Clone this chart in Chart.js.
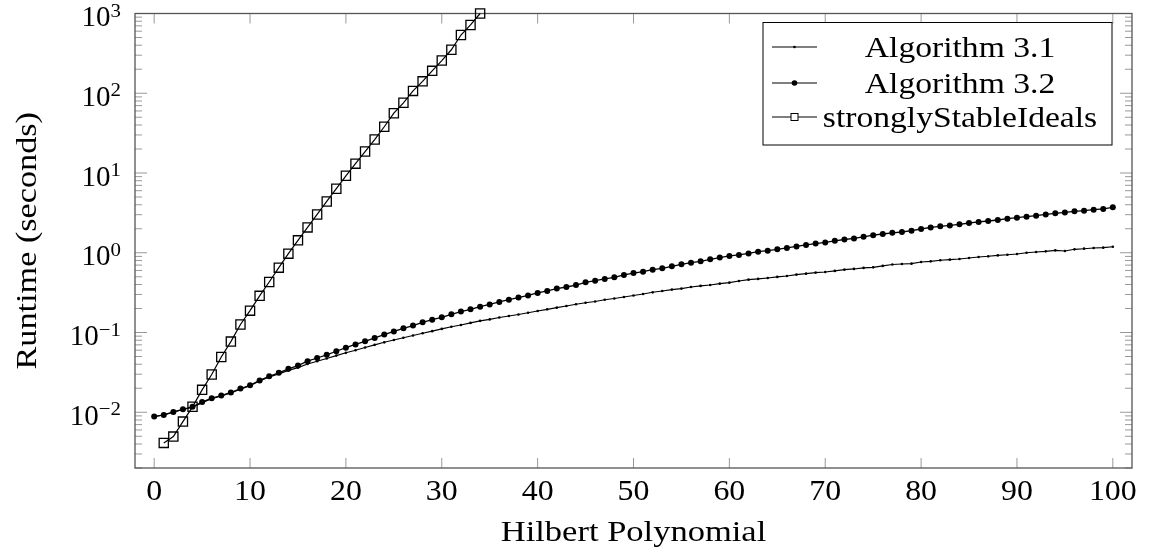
<!DOCTYPE html>
<html>
<head>
<meta charset="utf-8">
<script src="https://cdn.jsdelivr.net/npm/chart.js@4.4.1/dist/chart.umd.min.js"></script>
<style>
  html, body { margin: 0; padding: 0; background: #fff; }
  #wrap { width: 1151px; height: 554px; }
</style>
</head>
<body>
<div id="wrap"><canvas id="runtimeChart" width="1151" height="554"></canvas></div>
<script>
// Hilbert polynomial (x) for the two algorithms
const hilbert = [0,1,2,3,4,5,6,7,8,9,10,11,12,13,14,15,16,17,18,19,20,21,22,23,24,25,26,27,28,29,30,
  31,32,33,34,35,36,37,38,39,40,41,42,43,44,45,46,47,48,49,50,51,52,53,54,55,56,57,58,59,60,
  61,62,63,64,65,66,67,68,69,70,71,72,73,74,75,76,77,78,79,80,81,82,83,84,85,86,87,88,89,90,
  91,92,93,94,95,96,97,98,99,100];

// runtime in seconds
const alg31 = [0.00883,0.00923,0.0100,0.0108,0.0116,0.0132,0.0148,0.0160,0.0174,0.0195,0.0215,
  0.0247,0.0277,0.0303,0.0335,0.0363,0.0403,0.0437,0.0473,0.0513,0.0556,
  0.0600,0.0649,0.0700,0.0753,0.0804,0.0859,0.0916,0.0977,0.104,0.111,
  0.118,0.124,0.132,0.140,0.146,0.154,0.161,0.168,0.177,0.186,
  0.195,0.205,0.215,0.226,0.236,0.245,0.257,0.267,0.279,0.291,
  0.304,0.319,0.332,0.345,0.355,0.372,0.384,0.394,0.410,0.422,
  0.443,0.460,0.470,0.483,0.498,0.512,0.532,0.547,0.564,0.574,
  0.592,0.614,0.627,0.646,0.656,0.684,0.711,0.724,0.730,0.767,
  0.780,0.804,0.820,0.836,0.861,0.885,0.902,0.927,0.946,0.966,
  1.002,1.023,1.042,1.072,1.054,1.104,1.125,1.148,1.159,1.191];

const alg32 = [0.00883,0.00927,0.0101,0.0109,0.0117,0.0134,0.0150,0.0162,0.0177,0.0198,0.0218,
  0.0251,0.0282,0.0312,0.0350,0.0385,0.0437,0.0479,0.0525,0.0582,0.0646,
  0.0708,0.0776,0.0855,0.0942,0.103,0.113,0.122,0.134,0.145,0.155,
  0.169,0.183,0.195,0.211,0.225,0.242,0.258,0.274,0.292,0.313,
  0.332,0.355,0.372,0.394,0.426,0.447,0.470,0.492,0.527,0.556,
  0.579,0.614,0.638,0.676,0.716,0.752,0.780,0.826,0.869,0.912,
  0.938,0.982,1.033,1.062,1.104,1.148,1.202,1.253,1.303,1.349,
  1.413,1.466,1.514,1.585,1.660,1.718,1.778,1.820,1.892,1.986,
  2.080,2.148,2.203,2.270,2.360,2.432,2.500,2.576,2.673,2.754,
  2.831,2.917,3.027,3.119,3.206,3.304,3.365,3.467,3.540,3.707];

const ssHilbert = [1,2,3,4,5,6,7,8,9,10,11,12,13,14,15,16,17,18,19,20,21,22,23,24,25,26,27,28,29,30,31,32,33,34];
const ssIdeals = [0.00413,0.00495,0.00764,0.0117,0.0191,0.0297,0.0494,0.0769,0.126,0.188,
  0.288,0.430,0.650,0.975,1.43,2.08,3.02,4.40,6.35,9.23,
  13.1,18.6,26.3,38.0,56.2,75.9,107,141,191,257,
  351,537,718,1000];

const xTicks = [0,10,20,30,40,50,60,70,80,90,100];
const yTicks = [0.01,0.1,1,10,100,1000];
const yTickExp = ["\u22122","\u22121","0","1","2","3"];
const seriesNames = ["Algorithm 3.1","Algorithm 3.2","stronglyStableIdeals"];

const FONT = '"Liberation Serif", serif';

function pts(xs, ys) {
  return xs.map((x, i) => ({ x: x, y: ys[i] }));
}

// draws text stretched along its own direction by sx
function drawText(ctx, s, x, y, size, align, sx) {
  ctx.save();
  ctx.font = size + "px " + FONT;
  const w = ctx.measureText(s).width * sx;
  let x0 = x;
  if (align === "center") x0 = x - w / 2;
  if (align === "right") x0 = x - w;
  ctx.translate(x0, y);
  ctx.scale(sx, 1);
  ctx.textAlign = "left";
  ctx.textBaseline = "alphabetic";
  ctx.fillStyle = "#000";
  ctx.fillText(s, 0, 0);
  ctx.restore();
  return w;
}

function textWidth(ctx, s, size, sx) {
  ctx.save();
  ctx.font = size + "px " + FONT;
  const w = ctx.measureText(s).width * sx;
  ctx.restore();
  return w;
}

// frame + inward ticks, pgfplots style
const framePlugin = {
  id: "frame",
  beforeDatasetsDraw(chart) {
    const { ctx, chartArea: a, scales } = chart;
    const xs = scales.x, ys = scales.y;
    ctx.save();
    ctx.strokeStyle = "#999";
    ctx.lineWidth = 1;
    ctx.beginPath();
    xTicks.forEach(v => {
      const px = xs.getPixelForValue(v);
      ctx.moveTo(px, a.bottom); ctx.lineTo(px, a.bottom - 10);
      ctx.moveTo(px, a.top); ctx.lineTo(px, a.top + 10);
    });
    for (let e = -3; e <= 3; e++) {
      for (let m = 1; m <= 9; m++) {
        const v = m * Math.pow(10, e);
        if (v < ys.min || v > ys.max) continue;
        const py = ys.getPixelForValue(v);
        const len = m === 1 ? 12 : 7;
        ctx.moveTo(a.left, py); ctx.lineTo(a.left + len, py);
        ctx.moveTo(a.right, py); ctx.lineTo(a.right - len, py);
      }
    }
    ctx.stroke();
    ctx.strokeStyle = "#555";
    ctx.lineWidth = 1.3;
    ctx.strokeRect(a.left, a.top, a.right - a.left, a.bottom - a.top);
    ctx.restore();
  },
  afterDraw(chart) {
    const { ctx, chartArea: a, scales } = chart;
    const xs = scales.x, ys = scales.y;
    // x tick labels
    xTicks.forEach(v => drawText(ctx, String(v), xs.getPixelForValue(v), 500, 29, "center", 1.1));
    // y tick labels 10^e
    yTicks.forEach((v, i) => {
      const py = ys.getPixelForValue(v);
      const right = 121;
      const we = textWidth(ctx, yTickExp[i], 19, 1.1);
      const wb = textWidth(ctx, "10", 29, 1.0);
      drawText(ctx, "10", right - we - wb, py + 12.5, 29, "left", 1.0);
      drawText(ctx, yTickExp[i], right - we, py + 3, 19, "left", 1.1);
    });
    // axis titles
    drawText(ctx, "Hilbert Polynomial", (a.left + a.right) / 2, 541, 30, "center", 1.15);
    ctx.save();
    ctx.translate(36, (a.top + a.bottom) / 2);
    ctx.rotate(-Math.PI / 2);
    drawText(ctx, "Runtime (seconds)", 0, 0, 30, "center", 1.14);
    ctx.restore();

    // legend box
    const bx = 763, by = 22.5, bw = 349, bh = 122.5;
    ctx.save();
    ctx.fillStyle = "#fff";
    ctx.fillRect(bx, by, bw, bh);
    ctx.strokeStyle = "#000";
    ctx.lineWidth = 1;
    ctx.strokeRect(bx, by, bw, bh);
    const rows = [47, 83, 117];
    rows.forEach((ry, i) => {
      ctx.strokeStyle = "#000";
      ctx.lineWidth = 1.2;
      ctx.beginPath();
      ctx.moveTo(772, ry); ctx.lineTo(817, ry);
      ctx.stroke();
      const mx = 794.5;
      if (i === 0) {
        ctx.fillStyle = "#000";
        ctx.beginPath(); ctx.arc(mx, ry, 1.3, 0, Math.PI * 2); ctx.fill();
      } else if (i === 1) {
        ctx.fillStyle = "#000";
        ctx.beginPath(); ctx.arc(mx, ry, 2.8, 0, Math.PI * 2); ctx.fill();
      } else {
        ctx.fillStyle = "#fff";
        ctx.strokeStyle = "#000";
        ctx.lineWidth = 1;
        ctx.fillRect(mx - 3.5, ry - 3.5, 7, 7);
        ctx.strokeRect(mx - 3.5, ry - 3.5, 7, 7);
      }
      drawText(ctx, seriesNames[i], 960, ry + 10, 30, "center", 1.12);
    });
    ctx.restore();
  }
};

new Chart(document.getElementById("runtimeChart"), {
  type: "line",
  data: {
    datasets: [
      {
        label: seriesNames[0],
        data: pts(hilbert, alg31),
        borderColor: "#000",
        backgroundColor: "#000",
        borderWidth: 1.1,
        pointRadius: 1.3,
        pointBorderWidth: 0,
        tension: 0,
        clip: false
      },
      {
        label: seriesNames[1],
        data: pts(hilbert, alg32),
        borderColor: "#000",
        backgroundColor: "#000",
        borderWidth: 1.3,
        pointRadius: 3,
        pointBorderWidth: 0,
        tension: 0,
        clip: false
      },
      {
        label: seriesNames[2],
        data: pts(ssHilbert, ssIdeals),
        borderColor: "#000",
        backgroundColor: "rgba(255,255,255,0)",
        borderWidth: 1.2,
        pointStyle: "rect",
        pointRadius: 6.5,
        pointBorderColor: "#000",
        pointBorderWidth: 1.3,
        tension: 0,
        clip: false
      }
    ]
  },
  options: {
    responsive: false,
    animation: false,
    events: [],
    layout: {
      padding: { left: 135, right: 19, top: 13.5, bottom: 86 }
    },
    plugins: {
      legend: { display: false },
      tooltip: { enabled: false }
    },
    scales: {
      x: {
        type: "linear",
        min: -2,
        max: 102,
        display: false
      },
      y: {
        type: "logarithmic",
        min: 0.002,
        max: 1000,
        display: false
      }
    }
  },
  plugins: [framePlugin]
});
</script>
</body>
</html>
